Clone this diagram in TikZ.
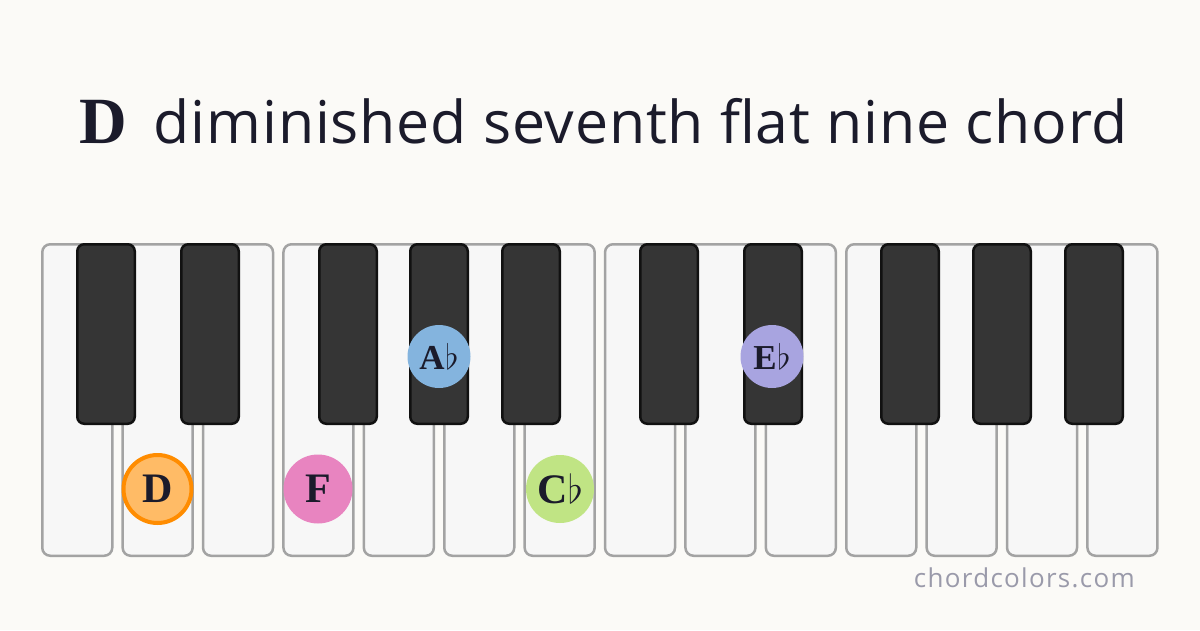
\documentclass[tikz,border=0pt]{standalone}
\usepackage{fontspec}
\usepackage{graphicx}
\setmainfont{Liberation Serif}
\newfontfamily\titlesans[LetterSpace=1.4]{Open Sans}
\newfontfamily\marksans[LetterSpace=5]{Open Sans}
\definecolor{bg}{HTML}{FBFAF7}
\definecolor{wkfill}{HTML}{F7F7F7}
\definecolor{wkline}{HTML}{A3A3A3}
\definecolor{bkfill}{HTML}{353535}
\definecolor{bkline}{HTML}{111111}
\definecolor{ink}{HTML}{1B1B2B}
\definecolor{mark}{HTML}{9A9AAA}
\definecolor{cD}{HTML}{FFBB66}
\definecolor{cDline}{HTML}{FF8C00}
\definecolor{cF}{HTML}{E884C0}
\definecolor{cAb}{HTML}{84B4DE}
\definecolor{cCb}{HTML}{C0E484}
\definecolor{cEb}{HTML}{A8A4E0}
\tikzset{
  whitekey/.style={draw=wkline, fill=wkfill, line width=2.5pt, rounded corners=8pt},
  blackkey/.style={draw=bkline, fill=bkfill, line width=2.5pt, rounded corners=7pt},
  notelbl/.style={circle, inner sep=0pt, text=ink, font=\bfseries\fontsize{42}{42}\selectfont},
  blacklbl/.style={circle, inner sep=0pt, text=ink, font=\bfseries\fontsize{35}{35}\selectfont},
}
\newcommand{\flt}[1]{\hspace{0.5pt}\scalebox{#1}{$\flat$}}
\begin{document}
\begin{tikzpicture}[x=1pt,y=-1pt]
\fill[bg] (0,0) rectangle (1200,630);
\useasboundingbox (0,0) rectangle (1200,630);
% title
\node[anchor=base west, inner sep=0pt, text=ink] (title) at (79,143)
  {{\bfseries\fontsize{66}{66}\selectfont D}\hspace{27pt}{\titlesans\fontsize{59}{59}\selectfont diminished seventh flat nine chord}};
% white keys
\foreach \i in {0,...,13} {
  \pgfmathsetmacro{\L}{41+80.4*\i}
  \draw[whitekey] (\L+1.25,244.25) rectangle (\L+71.25,555.75);
}
% black keys
\foreach \b in {76,180,318,409,501,639,743,880,972,1064} {
  \draw[blackkey] (\b+1.25,244.25) rectangle (\b+58.75,423.75);
}
% notes
\node[notelbl, fill=cD, draw=cDline, line width=4pt, minimum size=68pt] (nD) at (157.5,489) {D};
\node[notelbl, fill=cF, minimum size=69pt] (nF) at (318,489) {F};
\node[notelbl, fill=cCb, minimum size=68pt] (nCb) at (560,489) {C\flt{1.6}};
\node[blacklbl, fill=cAb, minimum size=63pt] (nAb) at (439,356.5) {A\flt{1.4}};
\node[blacklbl, fill=cEb, minimum size=63pt] (nEb) at (772,356.5) {E\flt{1.4}};
% watermark
\node[anchor=base east, inner sep=0pt, text=mark, font=\marksans\fontsize{26}{26}\selectfont] (wm) at (1135,587) {chordcolors.com};
\end{tikzpicture}
\end{document}
